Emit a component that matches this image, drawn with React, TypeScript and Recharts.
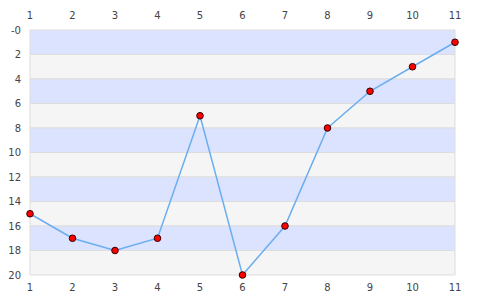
import React from "react";
import {
  LineChart,
  Line,
  XAxis,
  YAxis,
  ReferenceArea,
} from "recharts";

const xValues = [1, 2, 3, 4, 5, 6, 7, 8, 9, 10, 11];
const yValues = [15, 17, 18, 17, 7, 20, 16, 8, 5, 3, 1];
const xTicks = [1, 2, 3, 4, 5, 6, 7, 8, 9, 10, 11];
const yTicks = [0, 2, 4, 6, 8, 10, 12, 14, 16, 18, 20];
// bands run every 2 units, blue first
const bandStarts = [0, 2, 4, 6, 8, 10, 12, 14, 16, 18];

const data = xValues.map((x, i) => ({ x, y: yValues[i] }));

const tickStyle = { fill: "#444444", fontSize: 10, fontFamily: "DejaVu Sans" };
const fmtY = (v: number) => (v === 0 ? "-0" : String(v));

export default function App() {
  return (
    <div style={{ position: "absolute", left: 0, top: 0, background: "#ffffff" }}>
      <LineChart
        width={485}
        height={300}
        data={data}
        margin={{ top: 0, right: 0, bottom: 0, left: 0 }}
      >
        <XAxis
          xAxisId="top"
          orientation="top"
          dataKey="x"
          type="number"
          domain={[1, 11]}
          ticks={xTicks}
          height={30}
          axisLine={false}
          tickLine={false}
          tickSize={0}
          tickMargin={11}
          tick={tickStyle}
        />
        <XAxis
          xAxisId="bottom"
          orientation="bottom"
          dataKey="x"
          type="number"
          domain={[1, 11]}
          ticks={xTicks}
          height={25}
          axisLine={false}
          tickLine={false}
          tickSize={0}
          tickMargin={9}
          tick={tickStyle}
        />
        <YAxis
          yAxisId="left"
          orientation="left"
          type="number"
          reversed
          domain={[0, 20]}
          ticks={yTicks}
          width={30}
          axisLine={false}
          tickLine={false}
          tickSize={0}
          tickMargin={9}
          tick={tickStyle}
          tickFormatter={fmtY}
        />
        <YAxis
          yAxisId="right"
          orientation="right"
          type="number"
          reversed
          domain={[0, 20]}
          ticks={yTicks}
          width={30}
          axisLine={false}
          tickLine={false}
          tickSize={0}
          tickMargin={8}
          tick={tickStyle}
          tickFormatter={fmtY}
        />
        {bandStarts.map((s, i) => (
          <ReferenceArea
            key={s}
            xAxisId="bottom"
            yAxisId="left"
            x1={1}
            x2={11}
            y1={s}
            y2={s + 2}
            fill={i % 2 === 0 ? "#dce3ff" : "#f5f5f5"}
            fillOpacity={1}
            stroke="#dddddd"
            strokeWidth={1}
          />
        ))}
        <Line
          xAxisId="bottom"
          yAxisId="left"
          type="linear"
          dataKey="y"
          stroke="#6aaef0"
          strokeWidth={1.5}
          dot={{ r: 3.3, fill: "#ff0000", stroke: "#330000", strokeWidth: 1, fillOpacity: 1 }}
          activeDot={false}
          isAnimationActive={false}
        />
      </LineChart>
    </div>
  );
}
